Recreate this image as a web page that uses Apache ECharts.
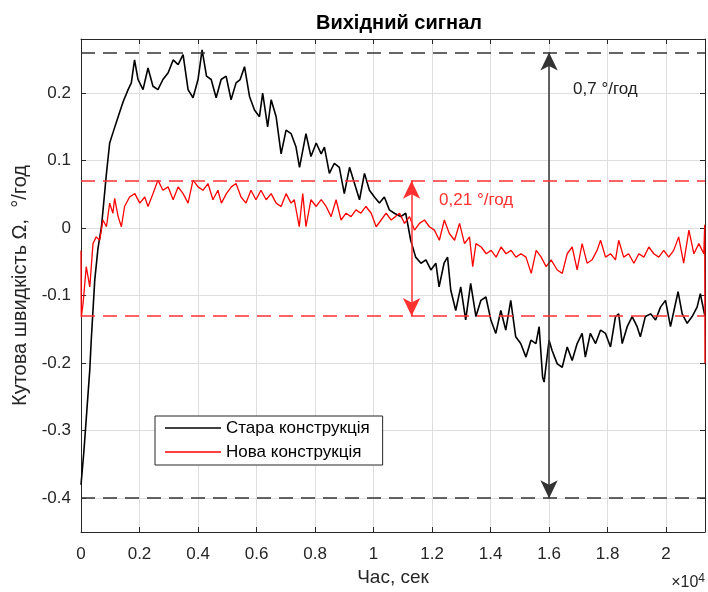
<!DOCTYPE html>
<html>
<head>
<meta charset="utf-8">
<script src="https://cdn.jsdelivr.net/npm/echarts@6/dist/echarts.min.js"></script>
<style>
  html, body { margin: 0; padding: 0; background: #fff; }
  #chart { width: 708px; height: 592px; }
</style>
</head>
<body>
<div id="chart"></div>
<script>
// час (с) та значення
const oldSignal = [
  [0,-0.38],[100,-0.33],[200,-0.27],[300,-0.21],[350,-0.166],[470,-0.077],[580,-0.03],[700,0.002],
  [870,0.081],[980,0.126],[1090,0.141],[1270,0.165],[1440,0.187],[1610,0.205],[1720,0.215],[1830,0.249],
  [1950,0.22],[2120,0.205],[2290,0.237],[2460,0.21],[2630,0.205],[2800,0.22],[2980,0.23],[3150,0.249],
  [3320,0.242],[3490,0.257],[3660,0.205],[3830,0.193],[4000,0.22],[4140,0.264],[4290,0.225],[4450,0.22],
  [4620,0.193],[4790,0.22],[4960,0.225],[5130,0.19],[5300,0.215],[5440,0.22],[5590,0.239],[5760,0.195],
  [5930,0.175],[6100,0.165],[6210,0.2],[6380,0.15],[6500,0.19],[6670,0.165],[6840,0.11],[7010,0.145],
  [7180,0.14],[7350,0.12],[7470,0.09],[7690,0.14],[7860,0.106],[8040,0.126],[8210,0.11],[8320,0.12],
  [8490,0.081],[8660,0.096],[8830,0.09],[9000,0.051],[9180,0.09],[9350,0.066],[9520,0.042],[9690,0.081],
  [9860,0.056],[10030,0.046],[10200,0.037],[10370,0.046],[10540,0.027],[10710,0.022],[10930,0.017],[11100,0.022],
  [11270,-0.018],[11440,-0.043],[11620,-0.052],[11790,-0.047],[11960,-0.062],[12130,-0.052],[12240,-0.087],[12410,-0.052],
  [12530,-0.043],[12640,-0.092],[12810,-0.122],[12980,-0.087],[13150,-0.136],[13320,-0.082],[13500,-0.131],[13670,-0.107],
  [13840,-0.102],[14010,-0.136],[14180,-0.156],[14350,-0.122],[14520,-0.151],[14690,-0.107],[14860,-0.161],[15030,-0.171],
  [15210,-0.191],[15380,-0.166],[15550,-0.171],[15660,-0.146],[15780,-0.221],[15830,-0.228],[15890,-0.226],[16000,-0.166],
  [16100,-0.181],[16280,-0.201],[16450,-0.206],[16620,-0.176],[16790,-0.196],[16960,-0.171],[17130,-0.156],[17240,-0.191],
  [17410,-0.156],[17590,-0.171],[17760,-0.151],[17930,-0.156],[18100,-0.176],[18270,-0.131],[18380,-0.127],[18500,-0.171],
  [18670,-0.146],[18840,-0.131],[19010,-0.146],[19120,-0.161],[19290,-0.131],[19470,-0.127],[19640,-0.136],[19810,-0.117],
  [19980,-0.107],[20150,-0.146],[20320,-0.112],[20410,-0.094],[20550,-0.127],[20720,-0.141],[20890,-0.131],[21060,-0.117],
  [21170,-0.097],[21330,-0.131]
];
const newSignal = [
  [0,-0.033],[10,-0.132],[70,-0.112],[180,-0.057],[300,-0.087],[410,-0.023],[520,-0.013],[640,-0.018],
  [750,0.012],[870,0.002],[980,0.037],[1090,0.022],[1150,0.044],[1270,0.017],[1380,0.002],[1490,0.032],
  [1660,0.046],[1840,0.051],[2010,0.037],[2180,0.046],[2290,0.032],[2460,0.051],[2630,0.071],[2800,0.056],
  [2980,0.061],[3150,0.042],[3320,0.061],[3490,0.051],[3660,0.037],[3830,0.071],[4000,0.061],[4170,0.056],
  [4340,0.066],[4510,0.042],[4680,0.056],[4800,0.037],[4970,0.051],[5140,0.061],[5300,0.066],[5470,0.046],
  [5640,0.037],[5810,0.056],[5980,0.042],[6150,0.056],[6330,0.042],[6500,0.051],[6670,0.037],[6840,0.032],
  [7010,0.051],[7180,0.037],[7290,0.042],[7460,0.002],[7580,0.051],[7690,0.002],[7860,0.042],[8040,0.032],
  [8210,0.042],[8380,0.032],[8550,0.017],[8720,0.042],[8890,0.012],[9060,0.022],[9230,0.017],[9400,0.027],
  [9570,0.022],[9740,0.032],[9920,0.022],[10090,0.002],[10260,0.012],[10430,0.022],[10600,0.012],[10750,0.017],
  [10890,0.022],[11060,0.007],[11230,0.017],[11400,-0.003],[11570,0.007],[11740,0.012],[11910,0.002],[12080,-0.003],
  [12250,-0.018],[12420,0.012],[12590,-0.008],[12770,-0.018],[12940,0.007],[13110,-0.023],[13280,-0.013],[13390,-0.057],
  [13500,-0.023],[13680,-0.028],[13850,-0.038],[14020,-0.033],[14190,-0.043],[14360,-0.028],[14530,-0.038],[14700,-0.033],
  [14870,-0.043],[15040,-0.038],[15210,-0.043],[15390,-0.067],[15560,-0.033],[15730,-0.043],[15900,-0.057],[16070,-0.047],
  [16280,-0.062],[16450,-0.067],[16620,-0.038],[16790,-0.028],[16960,-0.062],[17130,-0.023],[17300,-0.052],[17470,-0.047],
  [17640,-0.033],[17760,-0.018],[17930,-0.043],[18100,-0.038],[18270,-0.047],[18380,-0.018],[18550,-0.043],[18720,-0.038],
  [18900,-0.052],[19070,-0.038],[19240,-0.043],[19410,-0.028],[19580,-0.038],[19750,-0.043],[19920,-0.033],[20090,-0.043],
  [20260,-0.033],[20430,-0.013],[20600,-0.052],[20780,-0.003],[20950,-0.038],[21120,-0.023],[21290,-0.038],[21320,0.005],
  [21330,-0.2]
];
const seriesNames = ['Стара конструкція', 'Нова конструкція'];
const oldBounds = [0.26, -0.4];   // межі старої конструкції
const newBounds = [0.07, -0.13];  // межі нової конструкції
const oldArrowX = 16000;
const newArrowX = 11300;
const oldLabel = { text: '0,7 °/год', at: [16820, 0.205] };
const newLabel = { text: '0,21 °/год', at: [12240, 0.0415] };
const xRange = [0, 21330];
const yRange = [-0.45, 0.28];
const xStep = 2000;

const font = "'Liberation Sans', Arial, sans-serif";
const axisColor = '#262626';

let chart = echarts.init(document.getElementById('chart'));

function boundLines(bounds, x, color) {
  let style = { color: color, width: 1.5, type: [14, 8] };
  let lines = bounds.map(b => ({ yAxis: b, lineStyle: style }));
  lines.push([
    { coord: [x, bounds[0]], symbol: 'arrow', symbolSize: [13, 18] },
    { coord: [x, bounds[1]], symbol: 'arrow', symbolSize: [13, 18],
      lineStyle: { color: color, width: 1.5, type: 'solid' } }
  ]);
  return lines;
}

function textMark(lbl, color) {
  return {
    symbol: 'circle', symbolSize: 0, silent: true,
    label: { show: true, position: 'right', distance: 0, formatter: lbl.text,
      color: color, fontSize: 17, fontFamily: font },
    data: [{ coord: lbl.at }]
  };
}

let option = {
  animation: false,
  backgroundColor: '#fff',
  title: {
    text: 'Вихідний сигнал',
    left: 394, top: 8, textAlign: 'center',
    textStyle: { fontSize: 20, fontWeight: 'bold', color: '#000', fontFamily: font }
  },
  grid: { left: 81, right: 3, top: 39, bottom: 60, containLabel: false },
  legend: {
    left: 155, top: 416, orient: 'vertical',
    icon: 'rect', itemWidth: 56, itemHeight: 1.5, itemGap: 6,
    padding: [3, 13, 4, 10],
    borderColor: axisColor, borderWidth: 1, backgroundColor: '#fff',
    textStyle: { fontSize: 17, color: '#000', fontFamily: font, lineHeight: 18 },
    data: seriesNames
  },
  xAxis: [{
    type: 'value', min: xRange[0], max: xRange[1], interval: xStep,
    name: 'Час, сек', nameLocation: 'middle', nameGap: 36,
    nameTextStyle: { fontSize: 19, color: axisColor, fontFamily: font },
    axisLine: { onZero: false, lineStyle: { color: axisColor } },
    axisTick: { inside: true, length: 5, lineStyle: { color: axisColor } },
    axisLabel: { fontSize: 17, color: axisColor, fontFamily: font, margin: 14,
      showMaxLabel: false,
      formatter: v => String(Math.round(v / 1000) / 10) },
    splitLine: { show: true, lineStyle: { color: '#dedede' } }
  }, {
    type: 'value', position: 'top', min: xRange[0], max: xRange[1], interval: xStep,
    axisLine: { show: true, onZero: false, lineStyle: { color: axisColor } },
    axisTick: { inside: true, length: 5, lineStyle: { color: axisColor } },
    axisLabel: { show: false }, splitLine: { show: false }
  }],
  yAxis: [{
    type: 'value', min: yRange[0], max: yRange[1],
    name: 'Кутова швидкість Ω,  °/год', nameLocation: 'middle', nameGap: 49,
    nameTextStyle: { fontSize: 20, color: axisColor, fontFamily: font },
    axisLine: { show: true, onZero: false, lineStyle: { color: axisColor } },
    axisTick: { show: true, inside: true, length: 5, lineStyle: { color: axisColor } },
    axisLabel: { fontSize: 17, color: axisColor, fontFamily: font, margin: 10,
      showMinLabel: false, showMaxLabel: false,
      formatter: v => String(Math.round(v * 10) / 10) },
    splitLine: { show: true, lineStyle: { color: '#dedede' } }
  }, {
    type: 'value', position: 'right', min: yRange[0], max: yRange[1],
    axisLine: { show: true, onZero: false, lineStyle: { color: axisColor } },
    axisTick: { show: true, inside: true, length: 5, lineStyle: { color: axisColor } },
    axisLabel: { show: false }, splitLine: { show: false }
  }],
  series: [{
    name: seriesNames[0], type: 'line', symbol: 'none',
    data: oldSignal,
    lineStyle: { color: '#000', width: 1.6 }, itemStyle: { color: '#000' },
    markLine: {
      silent: true, symbol: ['none', 'none'],
      label: { show: false },
      lineStyle: { color: '#333' },
      data: boundLines(oldBounds, oldArrowX, '#333')
    },
    markPoint: textMark(oldLabel, '#222')
  }, {
    name: seriesNames[1], type: 'line', symbol: 'none',
    data: newSignal,
    lineStyle: { color: '#ff0000', width: 1.3 }, itemStyle: { color: '#ff0000' },
    markLine: {
      silent: true, symbol: ['none', 'none'],
      label: { show: false },
      lineStyle: { color: '#ff3030' },
      data: boundLines(newBounds, newArrowX, '#ff3030')
    },
    markPoint: textMark(newLabel, '#ff3030')
  }],
  graphic: [{
    type: 'text', right: 3, top: 573,
    style: {
      text: '×10{s|4}', fill: axisColor, font: '16px ' + font,
      rich: { s: { fontSize: 12, verticalAlign: 'top', padding: [0, 0, 8, 0] } }
    }
  }]
};

chart.setOption(option);
</script>
</body>
</html>
